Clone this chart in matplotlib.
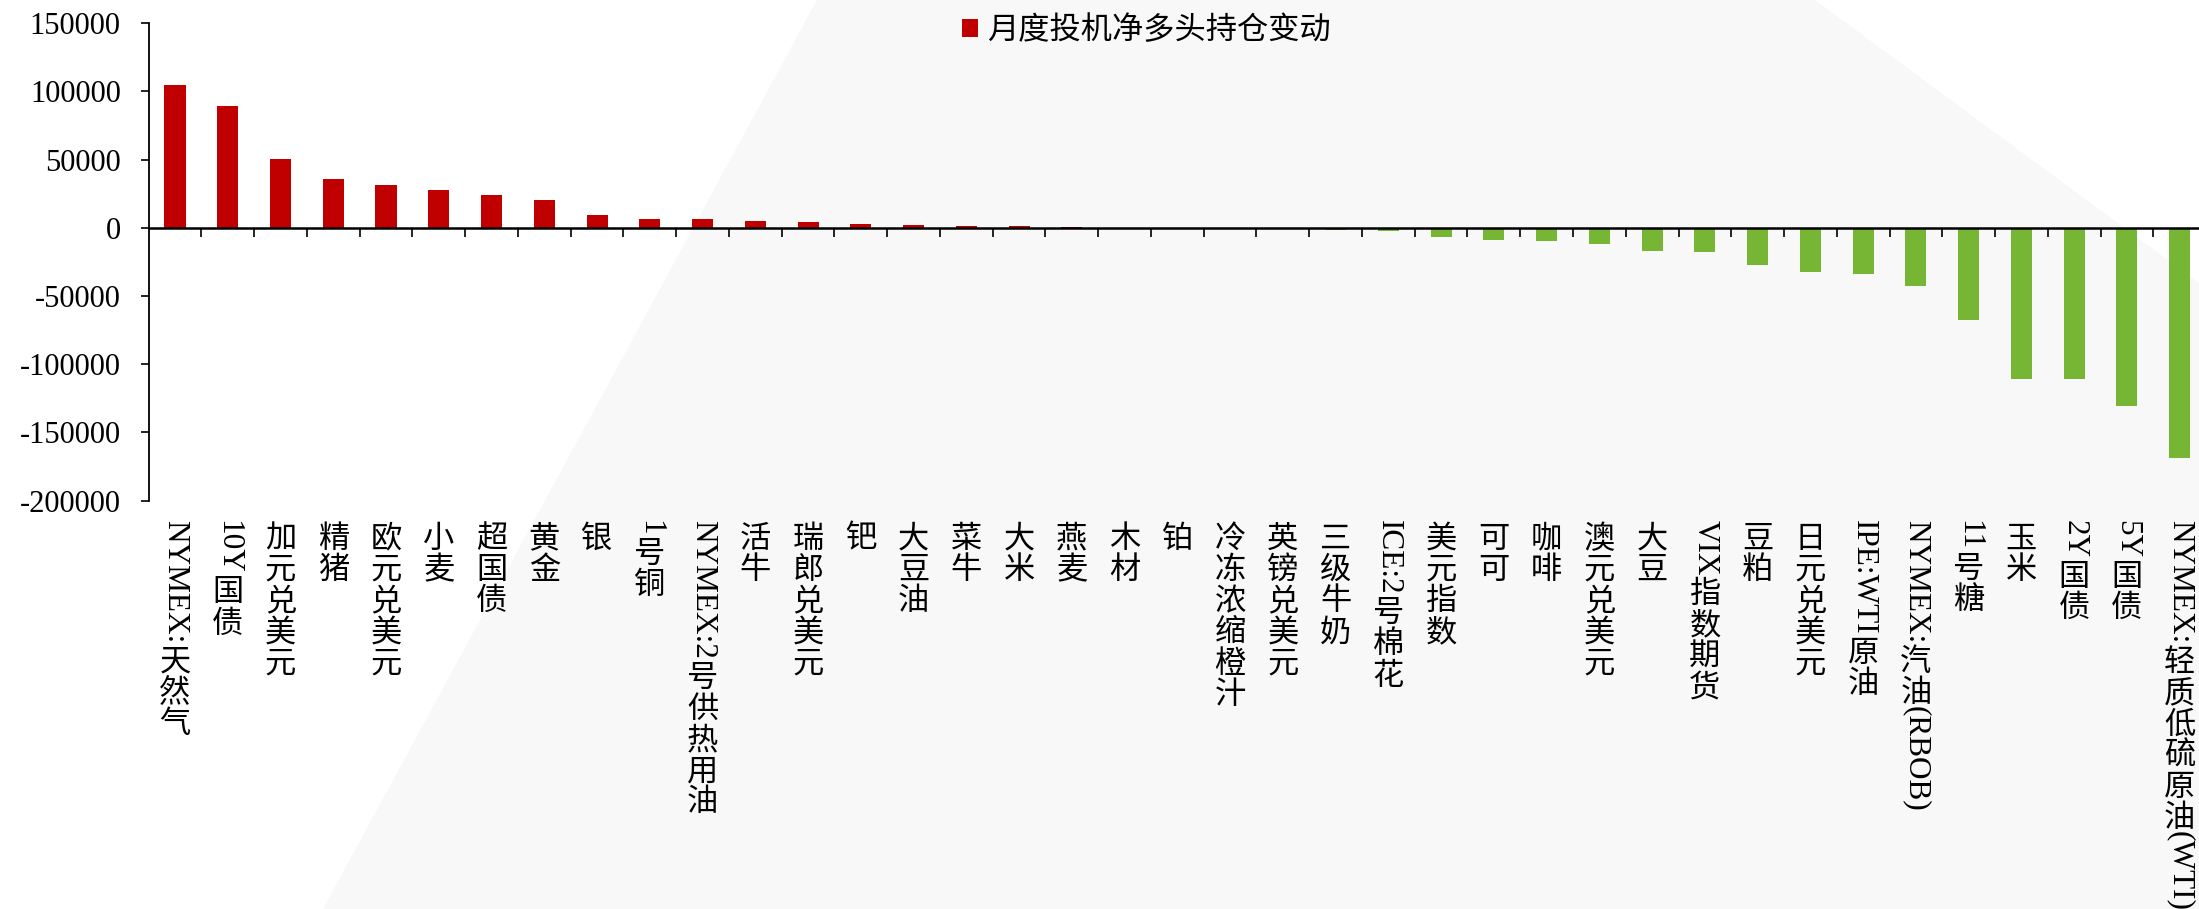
import re
import numpy as np
import matplotlib
matplotlib.use("Agg")
import matplotlib.pyplot as plt
from matplotlib.patches import Patch, Polygon
from matplotlib.transforms import offset_copy

plt.rcParams['font.family'] = ['Liberation Serif', 'Noto Sans CJK SC']
plt.rcParams['axes.unicode_minus'] = False

categories = ["NYMEX:天然气", "10Y国债", "加元兑美元", "精猪", "欧元兑美元", "小麦", "超国债",
              "黄金", "银", "1号铜", "NYMEX:2号供热用油", "活牛", "瑞郎兑美元", "钯", "大豆油",
              "菜牛", "大米", "燕麦", "木材", "铂", "冷冻浓缩橙汁", "英镑兑美元", "三级牛奶",
              "ICE:2号棉花", "美元指数", "可可", "咖啡", "澳元兑美元", "大豆", "VIX指数期货",
              "豆粕", "日元兑美元", "IPE:WTI原油", "NYMEX:汽油(RBOB)", "11号糖", "玉米",
              "2Y国债", "5Y国债", "NYMEX:轻质低硫原油(WTI)"]
values = [105000, 89000, 50500, 36000, 31500, 27500, 24000, 20800, 9800, 6800,
          6600, 5300, 4300, 3000, 2200, 1700, 1500, 400, 200, -200,
          -400, -1000, -1200, -2200, -6600, -8800, -9500, -11700, -16900, -17600,
          -27100, -32300, -33700, -42500, -67400, -110500, -110800, -130500, -168600]
series_name = "月度投机净多头持仓变动"
yticks = [-200000, -150000, -100000, -50000, 0, 50000, 100000, 150000]

red = "#C00000"
green = "#77B535"
label_size = 22.5

fig = plt.figure(figsize=(21.99, 9.09), dpi=100)

# light grey background shape
bg = Polygon([(0.3715, 1.0), (0.8254, 1.0), (1.0, 0.6887), (1.0, 0.0), (0.1469, 0.0)],
             closed=True, transform=fig.transFigure, facecolor="#f8f8f8",
             edgecolor="none", zorder=-5)
fig.add_artist(bg)

ax = fig.add_axes([0.0676, 0.4492, 0.9356, 0.5252])
ax.set_facecolor("none")

x = np.arange(len(categories))
colors = [red if v >= 0 else green for v in values]
ax.bar(x, values, width=0.4, color=colors, zorder=2)

ax.set_xlim(-0.5, len(categories) - 0.5)
ax.set_ylim(-200000, 150000)
ax.set_yticks(yticks)
ax.set_yticklabels([str(v) for v in yticks], fontsize=22)
ax.tick_params(axis='y', direction='out', length=6, width=1.2, pad=14)

for s in ["top", "right"]:
    ax.spines[s].set_visible(False)
ax.spines["left"].set_linewidth(1.3)
ax.spines["bottom"].set_position(("data", 0))
ax.spines["bottom"].set_linewidth(1.8)
ax.spines["bottom"].set_zorder(3)

# tick marks between categories on the zero line
ax.set_xticks(x)
ax.set_xticklabels([])
ax.tick_params(axis='x', which='major', length=0)
ax.set_xticks(np.arange(0.5, len(categories) - 0.5, 1), minor=True)
ax.tick_params(axis='x', which='minor', direction='out', length=6.5, width=1.2)

# category labels: stacked upright CJK characters, latin runs turned 90 degrees
renderer = fig.canvas.get_renderer()
base = ax.get_xaxis_transform()
for i, name in enumerate(categories):
    offset = 14.0
    for run in re.findall(r'[\u4e00-\u9fff]|[^\u4e00-\u9fff]+', name):
        if re.match(r'[\u4e00-\u9fff]', run):
            tr = offset_copy(base, fig=fig, y=-(offset + 0.88 * label_size), units='points')
            ax.text(i, 0, run, transform=tr, fontsize=label_size, ha='center',
                    va='baseline', clip_on=False)
            offset += label_size * 1.0
        else:
            tr = offset_copy(base, fig=fig, y=-offset, units='points')
            t = ax.text(i, 0, run, transform=tr, fontsize=label_size, ha='center', va='top',
                        rotation=-90, clip_on=False)
            h = t.get_window_extent(renderer).height * 72 / fig.dpi
            offset += h

fig.legend(handles=[Patch(facecolor=red, edgecolor='none')], labels=[series_name],
           loc='center left', bbox_to_anchor=(962 / 2199, 1 - 31 / 909),
           bbox_transform=fig.transFigure, frameon=False, fontsize=22.5,
           handlelength=0.5, handleheight=0.5, handletextpad=0.3, borderpad=0,
           borderaxespad=0)

fig.savefig("out.png", dpi=100)
